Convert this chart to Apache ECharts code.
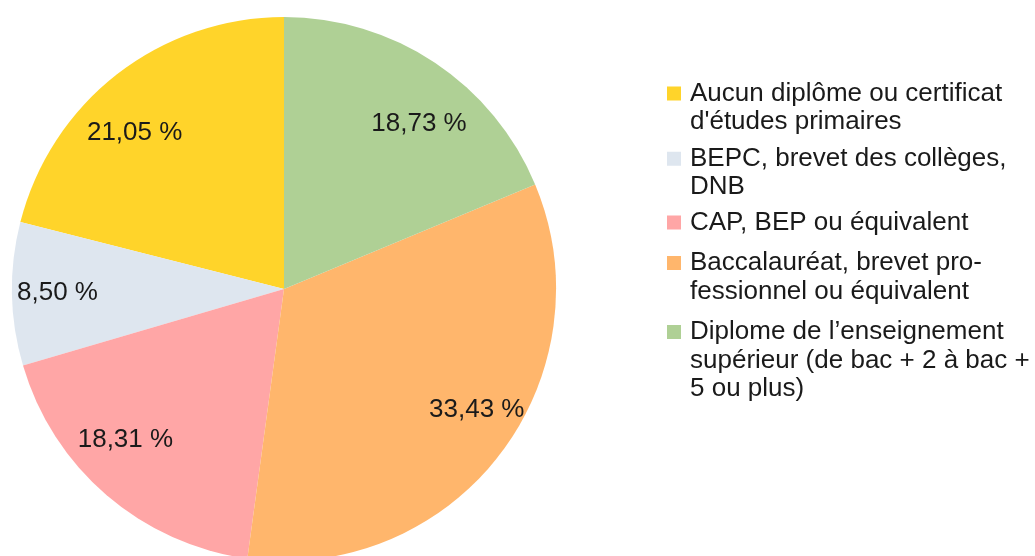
<!DOCTYPE html>
<html>
<head>
<meta charset="utf-8">
<script src="https://cdn.jsdelivr.net/npm/echarts@6/dist/echarts.min.js"></script>
<style>
html, body { margin: 0; padding: 0; background: #fff; }
#chart { width: 1035px; height: 556px; }
</style>
</head>
<body>
<div id="chart"></div>
<script>
// categories in legend order (slices run counter-clockwise from 12 o'clock)
const categories = [
    "Aucun diplôme ou certificat\nd'études primaires",
    'BEPC, brevet des collèges,\nDNB',
    'CAP, BEP ou équivalent',
    'Baccalauréat, brevet pro-\nfessionnel ou équivalent',
    'Diplome de l’enseignement\nsupérieur (de bac + 2 à bac +\n5 ou plus)'
]
const shares = [21.05, 8.50, 18.31, 33.43, 18.73]
const colors = ['#ffd42a', '#dee6ef', '#ffa6a6', '#ffb66c', '#afd095']

const chart = echarts.init(document.getElementById('chart'))

const cx = 284
const cy = 289
const R = 272
const fontFamily = '"Liberation Sans", Arial, sans-serif'
const lineH = 28.5
// y of each legend icon centre
const legendY = [93.5, 158.8, 222.5, 263, 332]

// one legend per item; the icon box is as tall as the text block and the
// square is drawn at its top, so it lines up with the first line
const legends = categories.map((name, i) => {
    const n = name.split('\n').length
    const h = n * lineH
    const sq = lineH / 2 - 7
    const icon = 'path://M0,0L14,0L14,0Z' +
        'M0,' + sq + 'L14,' + sq + 'L14,' + (sq + 14) + 'L0,' + (sq + 14) + 'Z' +
        'M0,' + h + 'L14,' + h + 'L14,' + h + 'Z'
    return {
        orient: 'vertical',
        left: 667,
        top: legendY[i] - lineH / 2,
        padding: 0,
        itemWidth: 14,
        itemHeight: h,
        icon: icon,
        selectedMode: false,
        itemStyle: { borderWidth: 0 },
        textStyle: {
            fontFamily: fontFamily,
            fontSize: 26,
            color: '#1a1a1a',
            lineHeight: lineH,
            padding: [0, 0, 0, 4]
        },
        data: [name]
    }
})

const option = {
    animation: false,
    color: colors,
    legend: legends,
    series: [{
        type: 'pie',
        center: [cx, cy],
        radius: R,
        startAngle: 90,
        clockwise: false,
        avoidLabelOverlap: false,
        silent: true,
        itemStyle: { borderWidth: 0 },
        emphasis: { disabled: true },
        labelLine: { show: false },
        label: {
            show: true,
            position: 'inside',
            fontFamily: fontFamily,
            fontSize: 26,
            color: '#1a1a1a',
            formatter: p => p.value.toFixed(2).replace('.', ',') + ' %'
        },
        // push labels out onto an ellipse, keep them inside the disc
        labelLayout: function (p) {
            const r = p.labelRect
            const x0 = r.x + r.width / 2
            const y0 = r.y + r.height / 2
            const ux = (x0 - cx) / (R / 2)
            const uy = (y0 - cy) / (R / 2)
            let x = cx + ux * 238
            const y = cy + uy * 194
            const maxDx = R - 5 - r.width / 2
            if (Math.abs(x - cx) > maxDx) x = cx + Math.sign(x - cx) * maxDx
            return { dx: x - x0, dy: y - y0 }
        },
        data: categories.map((name, i) => ({ name: name, value: shares[i] }))
    }]
}

chart.setOption(option)
</script>
</body>
</html>
